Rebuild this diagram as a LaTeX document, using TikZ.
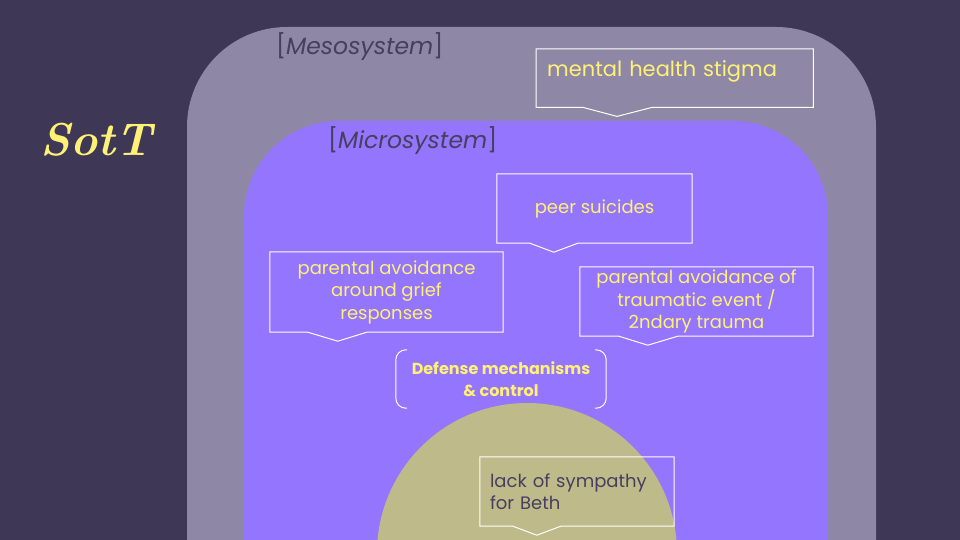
\documentclass[tikz,border=0pt]{standalone}
\usepackage{fontspec}
\newfontfamily\slidefont{Poppins}
\definecolor{slatebg}{HTML}{3E3756}
\definecolor{mesofill}{HTML}{8E88A6}
\definecolor{microfill}{HTML}{9475FD}
\definecolor{selffill}{HTML}{BFBA89}
\definecolor{yellow7}{HTML}{FFF176}
\definecolor{darktext}{HTML}{463F5E}
\tikzstyle{outline} = [draw=white, line width=1pt]

\begin{document}
\begin{tikzpicture}
  [x=1pt, y=-1pt,
   syslabel/.style={darktext, anchor=west, inner sep=0pt, font=\slidefont\fontsize{23.5}{26}\selectfont},
   cbox/.style={inner sep=0pt, align=center, yellow7, font=\slidefont\fontsize{18}{22.5}\selectfont},
   defbox/.style={inner sep=0pt, minimum width=210, minimum height=58, align=center, yellow7,
                  font=\slidefont\bfseries\fontsize{16}{22}\selectfont}]

  %Background and the two systems
  \clip (0,0) rectangle (960,540);
  \fill[slatebg] (0,0) rectangle (960,540);
  \fill[mesofill, rounded corners=100] (187,640) rectangle (876,27);
  \fill[microfill, rounded corners=95] (244,640) rectangle (828,121);
  \fill[selffill] (527,553) circle (150);

  %Titles
  \node[yellow7, font=\bfseries\itshape\fontsize{46}{52}\selectfont] (title) at (96,140) {SotT};
  \node[syslabel] (meso)  at (276,47)  {[\textit{Mesosystem}]};
  \node[syslabel] (micro) at (328,141) {[\textit{Microsystem}]};

  %Callout boxes
  \node[cbox, anchor=north west, minimum width=277, text width=255, inner xsep=11, inner ysep=5,
        text height=22, text depth=26, align=left, font=\slidefont\fontsize{21}{24}\selectfont] (stigma) at (536,49) {mental health stigma};
  \node[cbox, minimum width=195, minimum height=69] (peers)  at (594.5,208.5) {peer suicides};
  \node[cbox, minimum width=233, minimum height=80] (grief)  at (386.5,292) {parental avoidance\\around grief\\responses};
  \node[cbox, minimum width=233, minimum height=69] (trauma) at (696.5,301.5) {parental avoidance of\\traumatic event /\\2ndary trauma};
  \node[cbox, minimum width=194, minimum height=69, text width=174, align=left, darktext] (beth) at (577,491.5) {lack of sympathy\\for Beth};
  \node[defbox] (defense) at (501,379) {Defense mechanisms\\\& control};

  %Outlines with pointers
  \foreach \n/\a/\t/\b in {stigma/47/81/116, peers/33/57/81, grief/38/68/97, trauma/39/68/98, beth/33/57/81}
    \draw[outline] (\n.north west) -- (\n.south west) -- ([xshift=\a]\n.south west)
      -- ([xshift=\t, yshift=-9]\n.south west) -- ([xshift=\b]\n.south west)
      -- (\n.south east) -- (\n.north east) -- cycle;
  \draw[outline, rounded corners=10] ([xshift=11]defense.north west) -- (defense.north west)
    -- (defense.south west) -- ([xshift=11]defense.south west);
  \draw[outline, rounded corners=10] ([xshift=-11]defense.north east) -- (defense.north east)
    -- (defense.south east) -- ([xshift=-11]defense.south east);
\end{tikzpicture}
\end{document}
